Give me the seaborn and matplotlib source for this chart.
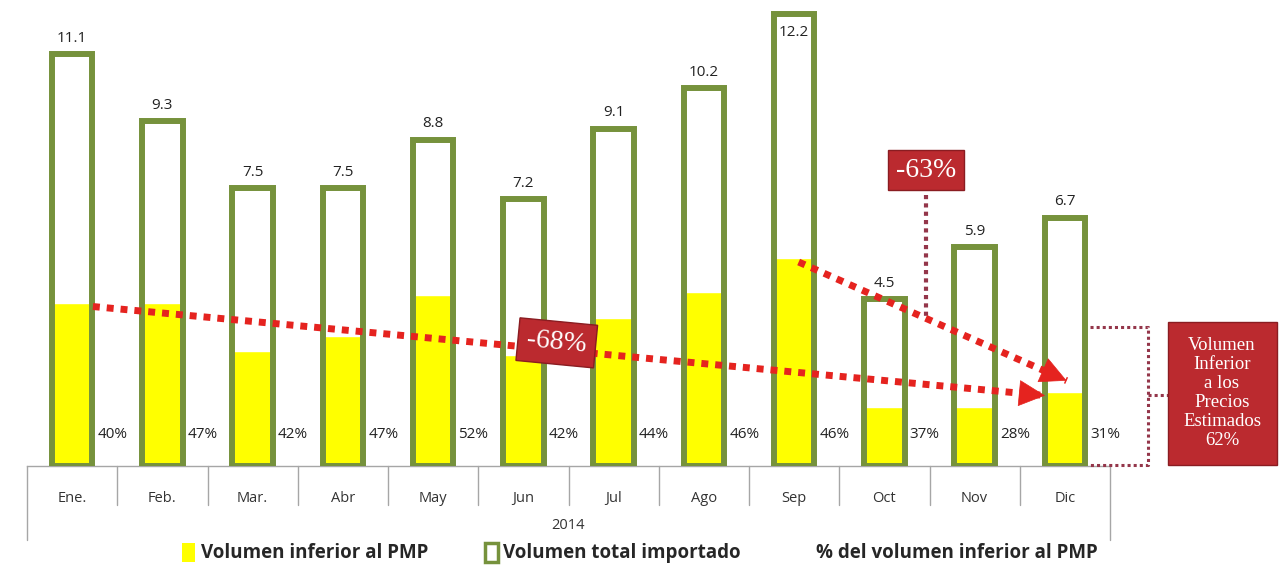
import numpy as np
import pandas as pd
import seaborn as sns
import matplotlib.pyplot as plt
from matplotlib.patches import Patch, Rectangle

# data (volumes, 2014)
months = ["Ene.", "Feb.", "Mar.", "Abr", "May", "Jun", "Jul", "Ago", "Sep", "Oct", "Nov", "Dic"]
total_volume = [11.1, 9.3, 7.5, 7.5, 8.8, 7.2, 9.1, 10.2, 12.2, 4.5, 5.9, 6.7]
below_pmp = [4.4, 4.4, 3.1, 3.5, 4.6, 3.0, 4.0, 4.7, 5.6, 1.6, 1.6, 2.0]
pct_below = [40, 47, 42, 47, 52, 42, 44, 46, 46, 37, 28, 31]
year = "2014"
trend_long = "-68%"
trend_short = "-63%"
summary = "Volumen\nInferior\na los\nPrecios\nEstimados\n62%"

df = pd.DataFrame({"mes": months, "total": total_volume, "inferior": below_pmp, "pct": pct_below})

GREEN = "#76923c"
YELLOW = "#ffff00"
RED = "#e5231f"
BOX = "#bb2a2f"
MAROON = "#94364a"
GRAY = "#a6a6a6"

sns.set_style("white")
plt.rcParams["font.family"] = ["Open Sans", "DejaVu Sans"]

fig = plt.figure(figsize=(12.8, 5.69), dpi=100)
ax = fig.add_axes([27 / 1280, 103 / 569, 1083 / 1280, 461 / 569])

sns.barplot(data=df, x="mes", y="inferior", color=YELLOW, saturation=1, width=0.45, ax=ax, zorder=2)
sns.barplot(data=df, x="mes", y="total", color=GREEN, saturation=1, fill=False, width=0.45,
            linewidth=4.3, ax=ax, zorder=3)

ax.set_xlim(-0.5, 11.5)
ax.set_ylim(0, 12.43)
ax.set_xlabel("")
ax.set_ylabel("")
ax.set_yticks([])
for s in ["top", "left", "right"]:
    ax.spines[s].set_visible(False)
ax.spines["bottom"].set_color(GRAY)
ax.spines["bottom"].set_linewidth(1)
ax.tick_params(axis="x", length=0, pad=18, labelsize=10.5, labelcolor="#333333")

# category separators and the year level
xt = ax.get_xaxis_transform()
for b in np.arange(-0.5, 12, 1):
    depth = -0.16 if b in (-0.5, 11.5) else -0.085
    ax.plot([b, b], [0, depth], transform=xt, color=GRAY, lw=1, clip_on=False)
ax.text(5.5, -0.128, year, transform=xt, ha="center", va="center", fontsize=10.5, color="#333333")

# value labels and percentage labels
for i, row in df.iterrows():
    if row["total"] > 12:
        ax.text(i, row["total"] - 0.3, f"{row['total']:.1f}", ha="center", va="top", fontsize=11, color="#222222", zorder=5)
    else:
        ax.text(i, row["total"] + 0.22, f"{row['total']:.1f}", ha="center", va="bottom", fontsize=11, color="#222222", zorder=5)
    ax.text(i + 0.28, 0.85, f"{row['pct']}%", ha="left", va="center", fontsize=11, color="#222222", zorder=5)


def dotted_arrow(x0, y0, x1, y1):
    ax.plot([x0, x1], [y0, y1], color=RED, lw=5, linestyle=(0, (1, 1)), zorder=6)
    dx, dy = x1 - x0, y1 - y0
    ax.annotate("", xy=(x1, y1), xytext=(x1 - dx * 0.02, y1 - dy * 0.02),
                arrowprops=dict(arrowstyle="-|>,head_length=1.8,head_width=0.9", color=RED, lw=0.5,
                                shrinkA=0, shrinkB=0), zorder=7)


dotted_arrow(0.23, below_pmp[0] - 0.1, 10.78, below_pmp[11] - 0.1)
dotted_arrow(8.05, below_pmp[8] - 0.1, 11.02, below_pmp[11] + 0.3)

serif = ["Liberation Serif", "DejaVu Serif"]
ax.text(5.37, 3.32, trend_long, rotation=-5.5, ha="center", va="center", color="white", fontsize=20,
        family=serif, zorder=8,
        bbox=dict(boxstyle="square,pad=0.32", fc=BOX, ec="#8a1c21", lw=1))
ax.text(9.46, 7.98, trend_short, ha="center", va="center", color="white", fontsize=20, family=serif, zorder=8,
        bbox=dict(boxstyle="square,pad=0.27", fc=BOX, ec="#8a1c21", lw=1))
ax.plot([9.46, 9.46], [7.3, 4.0], color=MAROON, lw=3, linestyle=(0, (1, 1)), zorder=4)

# bracket towards the summary box
bx0, bx1, btop = 11.28, 11.92, 3.75
ax.plot([bx0, bx1, bx1, bx0], [btop, btop, 0.03, 0.03], color=MAROON, lw=2.2, linestyle=(0, (1, 1)), clip_on=False, zorder=4)
ax.plot([bx1, 12.14], [1.92, 1.92], color=MAROON, lw=2.2, linestyle=(0, (1, 1)), clip_on=False, zorder=4)

fig.patches.append(Rectangle((1168 / 1280, 104 / 569), 109 / 1280, 143 / 569, transform=fig.transFigure,
                             fc=BOX, ec="#8a1c21", lw=1))
fig.text(1222 / 1280, 176 / 569, summary, ha="center", va="center", color="white", fontsize=13.5,
         family=serif, linespacing=1.15)

handles = [Patch(fc=YELLOW, ec="none"), Patch(fc="white", ec=GREEN, lw=2.5), Patch(fc="none", ec="none")]
labels = ["Volumen inferior al PMP", "Volumen total importado", "% del volumen inferior al PMP"]
fig.legend(handles, labels, loc="center", bbox_to_anchor=(0.5, 16 / 569), ncol=3, frameon=False,
           handlelength=0.7, handleheight=1.2, handletextpad=0.3, columnspacing=3.0,
           prop=dict(family="Open Sans", weight="bold", size=13.5))

fig.savefig("out.png", dpi=100)
